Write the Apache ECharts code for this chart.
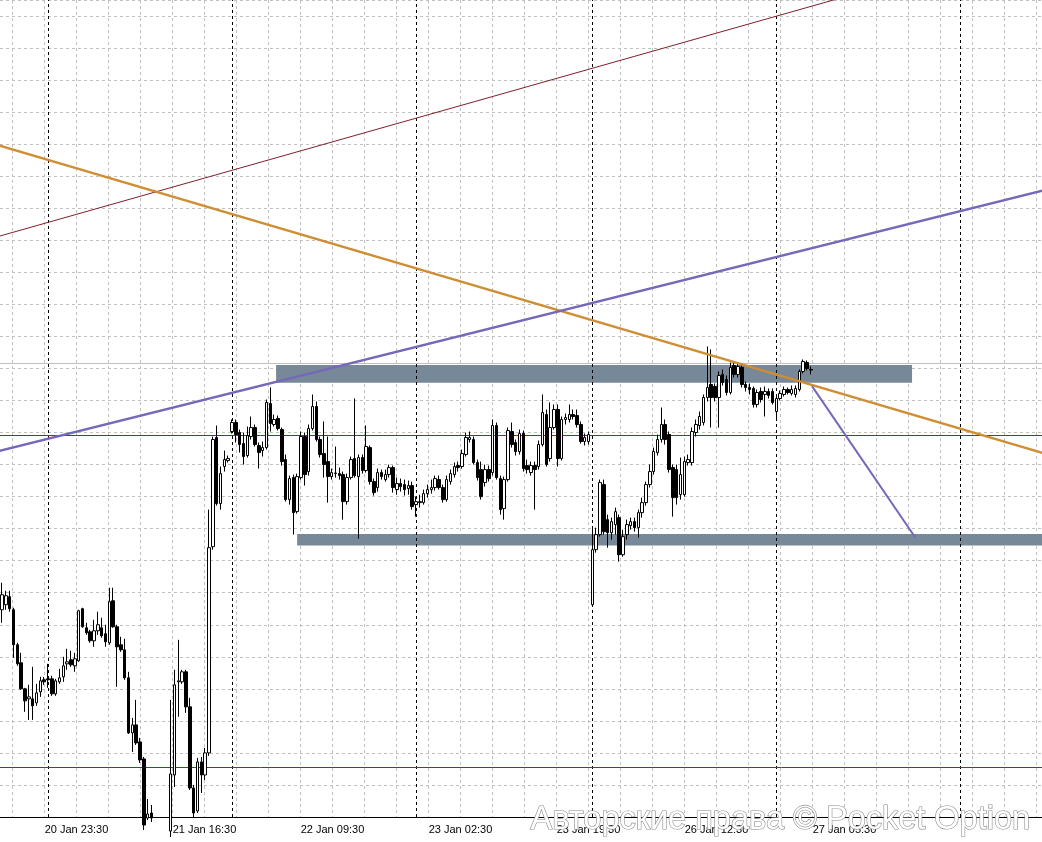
<!DOCTYPE html>
<html><head><meta charset="utf-8">
<script src="https://cdn.jsdelivr.net/npm/echarts/dist/echarts.min.js"></script>
<style>html,body{margin:0;padding:0;background:#fff;overflow:hidden}#c{width:1042px;height:842px}</style>
</head><body><div id="c"></div>
<script>
// M30 candles: [open, close, low, high]; bar 0 = 20 Jan 18:00
const candles = [
[51.75,55.5,48.5,58.5],[53,55.25,51.75,56.5],[55,52,51.25,56.5],[51.75,43,39.75,52.25],[43,38.25,37.75,43.5],
[38.5,32,31.75,41],[32,29,26.25,32.25],[29.5,30,24.25,33],[29.5,27.75,24.25,37.5],[28.5,31,27.75,33.25],
[31.25,34,30,35],[34.25,33.75,33,35],
[34.5,34.25,32.25,38.25],[34.5,30.75,30.25,35.25],[30.75,34,30.25,34.5],[33.75,34.75,33.25,37],[35,37.75,33.75,40],
[38.25,38.75,36.75,42],[39.25,38,37.5,41.5],[37.75,39.5,36.25,41],[39,51.5,38.75,51.75],[52,47.5,47.25,52.25],
[47.25,46,45.5,48.5],[46.25,44,43.5,46.75],[44,46.5,42.5,49.25],[46.5,48,45.5,51.25],[47.25,45.25,44.75,49.75],
[45.75,43.75,42.5,48],[43.5,53.75,43,57.25],[54,47.5,47.25,57.25],[47.5,42.5,32.5,48],[43,41.75,41.25,45],
[41.75,34.75,34.25,44.5],[34.75,21,20.75,36.25],[21,23,16.25,24.75],[23,18.5,18,29.25],[18.75,14.25,13.5,19.75],
[14.5,-2,-3.25,15],[-0.25,0.75,-0.75,4.5],[1,-0.25,-1.25,3],[-1.5,-4,-6,-1],[-4,-6.5,-8,-3],
[-6.5,-5,-8.5,-4.5],[-5,-3.5,-6,-2],[-3.5,10.75,-5,29.25],[10.5,33,7.5,36.75],[33.75,34,25,44.25],
[33.75,36.25,33.25,36.75],[36.25,27.5,26,36.75],[27.5,7.25,6.75,29.75],[7.25,1,-0.25,8],[1.5,13.75,1,14.75],
[13.75,10.5,6,15],[10.5,16,9.25,17.25],[16,67.25,15.25,76.75],[67.5,94.25,66.75,95],[94.75,78.25,77.75,97.75],
[78.25,85.75,76.75,87.5],[87.5,89.25,86.25,91.5],[89,89.5,88.5,90.25],
[96.25,98.5,95.75,99.25],[98.5,95.5,93.5,99.25],[96,93,91,96.75],[93.25,90,88,96],[90.25,95.25,89.75,97.5],
[95,97.25,94.25,100],[97.25,93,92.5,98],[92.75,91,87,93.5],[91.5,92.25,90,93.75],[92.25,103.5,91.75,104.25],
[103.25,98.25,96.25,107.25],[98,99.25,97.5,100.5],[99.5,97,96.5,100.25],[96.75,88.75,87.75,97.25],[89.25,79.25,78.75,90.5],
[79.25,84.5,78,85.25],[84.75,76,70.5,85.5],[76.25,85,75.75,85.75],[84.75,95,84.25,96.25],[95,85.5,82.75,96],
[86.25,97,85.25,98],[97,102.5,96.5,105.5],[102.5,94.25,93.75,103.75],[94.25,90.5,89.75,95],[90.75,88,84.75,98.75],
[88.75,85,78.5,95],[85,86,84.25,87],[85.75,85.9,84.75,92.5],[85.75,85.25,84.25,87.25],[85.5,78.75,74.25,86.25],
[78.75,84.75,78,85.75],[84.75,89.25,84.25,90],[89.5,85.25,84.75,104.5],[85,89.75,69.5,90.5],[89.75,86.5,85.75,90.5],
[86.5,92.5,86,97.75],[92.25,83.75,83,92.75],[83.75,81,80.25,84.5],[82.25,86,81.25,87],[86,85,84.25,86.75],
[84.25,85.5,83.75,86.75],[85.5,87.25,84.75,88],[87.25,82.25,81,87.75],[81.75,83.25,80.5,84.75],[83.25,82.5,81.25,84.5],
[83,81.75,80.25,84.25],[82,82.75,80.5,84],[82.75,77.5,76.75,83.75],
[78,78.75,75,80],[78.5,78.75,77.25,80.5],[78.5,80.75,78,81.75],[80.75,81.75,79.75,83],[81.75,82.25,80.75,84.25],
[82.25,84.5,81.5,85.25],[84.25,82.25,81.75,85.25],[82.25,79.25,78.5,83],[79.25,84.25,78.75,85.25],[83.75,85.75,83,86.75],
[85.5,87.5,84.75,88.5],[87.75,87.25,86.25,88.75],[87.5,90.75,87,91.75],[90.5,94.75,90,96],[94.25,94.75,93.5,96.25],
[94.25,88.5,88,95],[88.5,84.75,84,89.25],[86.75,80,79.25,88.75],[83.5,86.75,82.5,88],[86.75,84.5,83.75,87.75],
[86,97.75,85.25,99.25],[97.75,84.75,84.25,98.5],[84.5,76.75,75.5,85.25],[77,84.25,74.25,85],[84.25,96.5,83.75,97.25],
[96.25,93,92.25,98.5],[93.5,91.25,90.25,94.25],[91.25,95.75,90.5,96.75],[95.75,87,86.25,96.5],[87.75,86.75,85.75,89.25],
[86,87.75,85.25,88.75],[87.75,86.75,76.75,88.75],[87.5,93,86.75,94],[93,101,92.5,105.5],[100.5,88,87.5,101.75],
[89.5,97.25,88.75,103.5],[97.25,101.75,96.75,103],[101.75,89.5,87.5,103],[89.5,99.25,89,100],[99.25,99.75,98,100.75],
[99.25,100.5,98.5,103],[100.5,100,99.25,101.75],[100.25,98,97.25,101.75],[98,93.75,93.25,98.75],[93.75,94.75,92.75,95.75],
[93.75,95.5,93,96.25],
[53,66.75,52.75,72.25],[66.75,70.5,66,72.25],[70.5,83.5,70,84.25],[83,71.25,70.5,84.25],[74.25,71,67.25,75.5],
[71,73.75,69.25,74.75],[73,76.25,70.5,77.25],[74.75,65.5,63.75,75.5],[65.5,70,65,71.75],[70.5,73,69.25,74.25],
[72.75,73.75,71.75,74.75],[73.75,72.25,71.25,74.75],[72.25,76,69.75,76.75],[76,78.5,74.75,79.75],[78.5,83,77.75,83.75],
[83,86.25,82.25,88],[86.25,91.25,85.5,92.25],[91,94.25,90.25,95.5],[94.25,98,93.5,102.25],[98,94.25,93,99.25],
[95.5,86.75,86,96.25],[87.25,79.75,75,88],[86.75,79.75,78,88],[80.5,85.5,79.25,89.75],[80.5,88.75,80,90],
[88.5,89.25,87.75,90.5],[88.5,96.25,87.75,97.25],[96,98,95,99.25],[97.75,100,96.75,101.25],[98.5,104.75,97.75,105.5],
[104.75,107.25,103.75,117.5],[108,104.75,97.25,116.75],[107.5,104.75,103.75,108.25],[104.75,110.25,97.25,111.25],[110.5,108.5,107.75,111.75],
[109.25,106,105.25,110.25],[106,112.25,105.5,113.5],[112.75,110.5,109.75,113.75],[110.5,112.5,109.75,113.25],[112.25,108,107.25,112.75],
[108,107.25,106.25,108.75],[107.25,106.75,105.5,108.25],[107,103,102.25,107.5],[103,106,102.25,106.75],[106.25,104.25,103.5,107.25],
[105.5,106.25,100,107.5],[106.25,105.25,104.5,107],[106.25,103.5,103,107],
[101.25,104.5,99.25,105.25],[104.5,105.75,104,106.5],[105.5,106.75,105,107.5],[106.75,106,105.5,107.25],[105.75,106.75,105.25,107.75],
[105.5,107,104.75,107.75],[106.75,111.25,106.25,111.75],[111.25,113.75,110.75,114.25],[113.5,112,111.5,114],[111.75,111.6,110.5,112.5]
];
const dayStartBars = [12, 60, 108, 154, 202, 250];           // 21,22,23,26,27,28 Jan 00:00
const timeLabels = ['20 Jan 23:30','21 Jan 16:30','22 Jan 09:30','23 Jan 02:30','23 Jan 19:30','26 Jan 12:30','27 Jan 05:30'];
const greenLevels = [95.26, 12.41];
const bidLevel = 113.4;
const trendRed = [[-5, 143.86], [280, 221.1]];
const trendOrange = [[-5, 168.88], [280, 88.51]];
const trendPurple = [[-5, 90.39], [280, 158.43]];
const projection = [[211.3, 107.6], [238.2, 69.84]];
const zoneUpper = [[71.5, 112.86], [237.4, 108.44]];
const zoneLower = [[77.0, 70.66], [280, 67.79]];

const chart = echarts.init(document.getElementById('c'), null, {renderer: 'canvas'});
const gridDash = {color: '#c0c0c0', width: 1, type: [3, 3]};
const tl = (pts, color, width) => ({
  type: 'line', xAxisIndex: 0, yAxisIndex: 0, data: pts, symbol: 'none', silent: true, z: 4,
  lineStyle: {color, width}, clip: true, animation: false
});
chart.setOption({
  animation: false,
  backgroundColor: '#ffffff',
  grid: [
    {left: 0, top: 0, width: 1042, height: 817, outerBoundsMode: 'none', containLabel: false},
    {left: -19.3, top: 0, width: 1088, height: 817, outerBoundsMode: 'none', containLabel: false}
  ],
  xAxis: [
    {type: 'value', gridIndex: 0, min: -0.5217, max: 271.3, axisLine: {show: true, lineStyle: {color: '#000', width: 1}},
     axisTick: {show: false}, axisLabel: {show: false}, splitLine: {show: false}},
    {type: 'value', gridIndex: 1, min: 0, max: 34, interval: 1, offset: 2,
     axisLine: {show: true, lineStyle: {color: '#000', width: 1}},
     axisTick: {show: false},
     axisLabel: {show: true, color: '#000', fontSize: 11, fontFamily: 'Liberation Sans', align: 'left', margin: 5,
       showMinLabel: true, showMaxLabel: true, hideOverlap: false,
       formatter: v => { const k = (v - 2) / 4; return (Number.isInteger(k) && k >= 0 && k < timeLabels.length) ? timeLabels[k] : ''; }},
     splitLine: {show: true, lineStyle: gridDash}}
  ],
  yAxis: [
    {type: 'value', gridIndex: 0, min: 0, max: 204, interval: 8, axisLine: {show: false}, axisTick: {show: false},
     axisLabel: {show: false}, splitLine: {show: true, lineStyle: gridDash}},
    {type: 'value', gridIndex: 1, min: 0, max: 1, show: false, splitLine: {show: false}}
  ],
  series: [
    {
      type: 'candlestick', xAxisIndex: 0, yAxisIndex: 0, z: 3,
      data: candles.map((c, i) => [i, c[0], c[1], c[2], c[3]]),
      encode: {x: 0, y: [1, 2, 3, 4]},
      barWidth: 3, clip: true, silent: true,
      itemStyle: {color: '#ffffff', color0: '#000000', borderColor: '#000000', borderColor0: '#000000', borderWidth: 1},
      markArea: {
        silent: true, z: 1, itemStyle: {color: '#778899', opacity: 1},
        data: [
          [{coord: zoneUpper[0]}, {coord: zoneUpper[1]}],
          [{coord: zoneLower[0]}, {coord: zoneLower[1]}]
        ]
      },
      markLine: {
        silent: true, z: 2, symbol: 'none', label: {show: false},
        data: [
          ...dayStartBars.map(b => ({xAxis: b, lineStyle: {color: '#000', width: 1, type: [3, 3]}})),
          ...greenLevels.map(v => ({yAxis: v, lineStyle: {color: '#007800', width: 1, type: 'solid'}})),
          {yAxis: bidLevel, lineStyle: {color: '#c0c0c0', width: 1, type: 'solid'}}
        ]
      }
    },
    tl(trendRed, '#7f1f2a', 1),
    tl(trendOrange, '#cf8e34', 2.5),
    tl(trendPurple, '#7568b8', 2.5),
    tl(projection, '#7568b8', 2)
  ],
  graphic: [{
    type: 'text', left: 530, top: 803, z: 100, silent: true,
    style: {text: 'Авторские права © Pocket Option', fontSize: 32.5, fontFamily: 'Liberation Sans',
      fill: '#ffffff', stroke: '#8a8a8a', lineWidth: 1.2}
  }]
});
</script></body></html>
